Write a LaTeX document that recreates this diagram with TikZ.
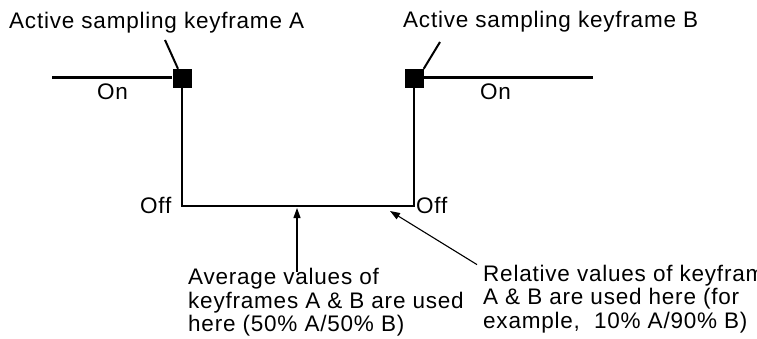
\documentclass[tikz,border=0pt]{standalone}
\usepackage{fontspec}
\setmainfont{Liberation Sans}[LetterSpace=3.5]
\usetikzlibrary{arrows.meta}
\begin{document}
\begin{tikzpicture}[x=1pt,y=-1pt,
  wire/.style={line width=2.2pt},
  leader/.style={line width=2pt},
  pointer/.style={line width=1.1pt,-{Triangle[length=10pt,width=7pt]}},
  key/.style={fill=black,minimum size=19pt,inner sep=0pt},
  lbl/.style={inner sep=0pt,font=\fontsize{22.5}{23.7}\selectfont},
]
\useasboundingbox (0,0) rectangle (757,339);

% keyframe markers
\node[key] (ka) at (182,78.5) {};
\node[key] (kb) at (414,78.5) {};
\coordinate (onA) at (52,77.5);
\coordinate (onB) at (593,77.5);
\coordinate (offA) at (182,206);
\coordinate (offB) at (414,206);
\coordinate (la) at (165,40);
\coordinate (lb) at (440,42);
\coordinate (tip1) at (297,208);
\coordinate (tip2) at (390,211);

% signal
\draw[wire] (onA) -- (onA -| ka.west);
\draw[wire] (ka.south) -- (offA) -- (offB) -- (kb.south);
\draw[wire] (onB -| kb.east) -- (onB);

% labels
\node[lbl,anchor=base west] (ta) at (9,28.3) {Active sampling keyframe A};
\node[lbl,anchor=base west] (tb) at (403,27.5) {Active sampling keyframe B};
\node[lbl,anchor=base west] (onla) at (97,99.5) {On};
\node[lbl,anchor=base west] (onlb) at (480,99.5) {On};
\node[lbl,anchor=base west] (offla) at (140,213.5) {Off};
\node[lbl,anchor=base west] (offlb) at (416,213.5) {Off};
\node[lbl,anchor=base west,align=left] (avg) at (188,331.7)
  {Average values of\\keyframes A \& B are used\\here (50\% A/50\% B)};
\node[lbl,anchor=base west,align=left] (rel) at (483,328.5)
  {Relative values of keyframes\\A \& B are used here (for\\example,\ \ 10\% A/90\% B)};

% leaders
\draw[leader] ([xshift=-4pt]ka.north) -- (la);
\draw[leader] (kb.north east) -- (lb);

% pointers
\draw[pointer,shorten <=-4pt] (avg.north -| tip1) -- (tip1);
\draw[pointer] ([xshift=-6pt]rel.north west) -- (tip2);
\end{tikzpicture}
\end{document}
